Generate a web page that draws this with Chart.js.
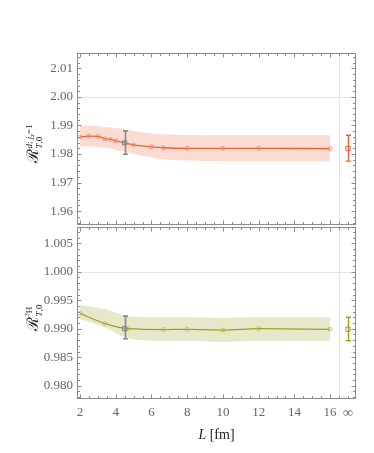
<!DOCTYPE html>
<html><head><meta charset="utf-8">
<script src="https://cdn.jsdelivr.net/npm/chart.js@4.4.1/dist/chart.umd.min.js"></script>
<style>
html,body{margin:0;padding:0;background:#fff;}
#wrap{position:relative;width:374px;height:453px;}
canvas{position:absolute;left:0;top:0;}
</style></head>
<body><div id="wrap"><canvas id="c1" width="374" height="453"></canvas><canvas id="c2" width="374" height="453"></canvas></div>
<script>
// ---- data ----
const xTop = [2, 2.5, 3, 3.4, 3.7, 4, 4.5, 5, 6, 6.67, 8, 10, 12, 16];
const yTop = [1.9860, 1.9863, 1.9862, 1.9853, 1.9851, 1.9846, 1.9839, 1.9832, 1.9825, 1.9822, 1.9820, 1.9820, 1.9820, 1.9819];
const upTop = [1.9898, 1.9899, 1.9898, 1.9895, 1.9893, 1.9891, 1.9886, 1.9881, 1.9872, 1.9869, 1.9867, 1.9866, 1.9866, 1.9866];
const loTop = [1.9827, 1.9827, 1.9825, 1.9822, 1.9819, 1.9815, 1.9808, 1.9800, 1.9788, 1.9782, 1.9777, 1.9775, 1.9775, 1.9775];

const xBot = [2, 3.4, 4.7, 6.67, 8, 10, 12, 16];
const yBot = [0.99268, 0.99090, 0.99000, 0.98985, 0.98990, 0.98976, 0.99000, 0.98990];
const upBot = [0.9942, 0.9934, 0.9922, 0.9920, 0.9920, 0.9919, 0.9920, 0.9920];
const loBot = [0.9917, 0.9902, 0.9883, 0.9879, 0.9879, 0.9877, 0.9879, 0.9879];

const grayX = [4.5];
const grayTop = [1.9839], grayTopLo = [1.9799], grayTopHi = [1.9881];
const grayBot = [0.9900], grayBotLo = [0.98824], grayBotHi = [0.9922];

const infX = [17];
const infTop = [1.9819], infTopLo = [1.9775], infTopHi = [1.9866];
const infBot = [0.9899], infBotLo = [0.9879], infBotHi = [0.9920];

const xTickValues = [2, 4, 6, 8, 10, 12, 14, 16, 17];
const xTickLabels = ['2', '4', '6', '8', '10', '12', '14', '16', '\u221E'];
const yTopTicks = [1.96, 1.97, 1.98, 1.99, 2.00, 2.01];
const yTopLabels = ['1.96', '1.97', '1.98', '1.99', '2.00', '2.01'];
const yBotTicks = [0.980, 0.985, 0.990, 0.995, 1.000, 1.005];
const yBotLabels = ['0.980', '0.985', '0.990', '0.995', '1.000', '1.005'];

// ---- styles ----
const RED = '#e8613d', RED_PT = '#ef8d72', RED_BAND = '#fadcd3';
const OLV = '#a2a11c', OLV_PT = '#bdbc5c', OLV_BAND = '#e7e8c9';
const GRAY = '#8a8a8a';
const SERIF = '"Liberation Serif", "DejaVu Serif", serif';

function pts(xs, ys){ return xs.map((x,i)=>({x:x, y:ys[i]})); }

const framePlugin = {
  id: 'frame',
  beforeDatasetsDraw(chart, args, o){
    const ctx = chart.ctx, a = chart.chartArea, xs = chart.scales.x, ys = chart.scales.y;
    ctx.save();
    ctx.strokeStyle = '#e4e4e4'; ctx.lineWidth = 1;
    ctx.beginPath();
    const gy = Math.round(ys.getPixelForValue(o.hGrid)) + 0.5;
    ctx.moveTo(a.left, gy); ctx.lineTo(a.right, gy);
    const gx = Math.round(xs.getPixelForValue(o.vGrid)) + 0.5;
    ctx.moveTo(gx, a.top); ctx.lineTo(gx, a.bottom);
    ctx.stroke();
    ctx.restore();
  },
  afterDraw(chart, args, o){
    const ctx = chart.ctx, a = chart.chartArea, xs = chart.scales.x, ys = chart.scales.y;
    ctx.save();
    ctx.strokeStyle = '#8c8c8c'; ctx.lineWidth = 1;
    const L = Math.round(a.left)+0.5, R = Math.round(a.right)-0.5, T = Math.round(a.top)+0.5, B = Math.round(a.bottom)-0.5;
    ctx.strokeRect(L, T, R-L, B-T);
    ctx.beginPath();
    for (let k = 0; ; k++) {
      const v = o.xMinor[0] + k*o.xMinor[2];
      if (v > o.xMinor[1] + 1e-9) break;
      const major = Math.abs(v/o.xMajor - Math.round(v/o.xMajor)) < 1e-6;
      const len = major ? 4 : 2.5;
      const p = Math.round(xs.getPixelForValue(v)) + 0.5;
      ctx.moveTo(p, T); ctx.lineTo(p, T+len);
      ctx.moveTo(p, B); ctx.lineTo(p, B-len);
    }
    for (let k = 0; ; k++) {
      const v = o.yMinor[0] + k*o.yMinor[2];
      if (v > o.yMinor[1] + 1e-9) break;
      const major = Math.abs(v/o.yMajor - Math.round(v/o.yMajor)) < 1e-6;
      const len = major ? 4 : 2.5;
      const p = Math.round(ys.getPixelForValue(v)) + 0.5;
      ctx.moveTo(L, p); ctx.lineTo(L+len, p);
      ctx.moveTo(R, p); ctx.lineTo(R-len, p);
    }
    ctx.stroke();
    ctx.restore();
  }
};

const errPlugin = {
  id: 'errbars',
  afterDatasetsDraw(chart, args, o){
    const ctx = chart.ctx, xs = chart.scales.x, ys = chart.scales.y;
    ctx.save();
    (o.bars || []).forEach(b => {
      b.x.forEach((xv, i) => {
        const px = Math.round(xs.getPixelForValue(xv)) + 0.5;
        const p1 = ys.getPixelForValue(b.lo[i]), p2 = ys.getPixelForValue(b.hi[i]);
        ctx.strokeStyle = b.color; ctx.lineWidth = b.width;
        ctx.beginPath();
        ctx.moveTo(px, p1); ctx.lineTo(px, p2);
        ctx.moveTo(px - b.cap, p1); ctx.lineTo(px + b.cap, p1);
        ctx.moveTo(px - b.cap, p2); ctx.lineTo(px + b.cap, p2);
        ctx.stroke();
      });
    });
    ctx.restore();
  }
};

// rotated math-like axis title
const titlePlugin = {
  id: 'mtitle',
  afterDraw(chart, args, o){
    const ctx = chart.ctx;
    ctx.save();
    ctx.fillStyle = '#222';
    if (o.ytitle) {
      const t = o.ytitle;
      const font = (seg) => (seg.it ? 'italic ' : '') + seg.s + 'px ' + SERIF;
      ctx.font = font(t.main);
      const wMain = ctx.measureText(t.main.t).width;
      const groupW = (g) => g.reduce((acc, seg) => { ctx.font = font(seg); return acc + ctx.measureText(seg.t).width; }, 0);
      const wSup = groupW(t.sup), wSub = groupW(t.sub);
      const total = wMain + 1 + Math.max(wSup, wSub);
      ctx.translate(t.x, t.y);
      ctx.rotate(-Math.PI/2);
      let x0 = -total/2;
      ctx.textBaseline = 'alphabetic'; ctx.textAlign = 'left';
      ctx.font = font(t.main); ctx.fillText(t.main.t, x0, 0);
      const drawGroup = (g) => { let x = x0 + wMain + 1; g.forEach(seg => { ctx.font = font(seg); ctx.fillText(seg.t, x, seg.dy); x += ctx.measureText(seg.t).width; }); };
      drawGroup(t.sup); drawGroup(t.sub);
      ctx.setTransform(1,0,0,1,0,0);
    }
    if (o.xtitle) {
      const t = o.xtitle;
      ctx.textBaseline = 'alphabetic'; ctx.textAlign = 'left';
      ctx.font = 'italic 14px ' + SERIF;
      const w1 = ctx.measureText(t.a).width;
      ctx.font = '14px ' + SERIF;
      const w2 = ctx.measureText(t.b).width;
      let x = t.x - (w1 + w2)/2;
      ctx.font = 'italic 14px ' + SERIF; ctx.fillText(t.a, x, t.y);
      ctx.font = '14px ' + SERIF; ctx.fillText(t.b, x + w1, t.y);
    }
    ctx.restore();
  }
};

function makeChart(id, cfg){
  const isBottom = cfg.bottom;
  return new Chart(document.getElementById(id), {
    type: 'scatter',
    data: { datasets: [
      { order: 10, data: pts(cfg.xs, cfg.up), showLine: true, pointRadius: 0, borderWidth: 0, borderColor: 'rgba(0,0,0,0)', backgroundColor: cfg.band, fill: '+1', cubicInterpolationMode: 'monotone' },
      { order: 11, data: pts(cfg.xs, cfg.lo), showLine: true, pointRadius: 0, borderWidth: 0, borderColor: 'rgba(0,0,0,0)', fill: false, cubicInterpolationMode: 'monotone' },
      { order: 2, data: pts(cfg.xs, cfg.ys), showLine: true, borderColor: cfg.line, borderWidth: 1.3, pointRadius: 2, pointBorderWidth: 0.9, pointBorderColor: cfg.pt, pointBackgroundColor: 'rgba(255,255,255,0)', fill: false, cubicInterpolationMode: 'monotone' },
      { order: 1, data: pts(grayX, cfg.gray), showLine: false, pointStyle: 'rect', pointRadius: 3, pointBorderWidth: 1, pointBorderColor: GRAY, pointBackgroundColor: 'rgba(160,160,160,0.5)' },
      { order: 0, data: pts(infX, cfg.inf), showLine: false, pointStyle: 'rect', pointRadius: 3, pointBorderWidth: 1, pointBorderColor: cfg.line, pointBackgroundColor: 'rgba(255,255,255,0)' }
    ]},
    options: {
      responsive: false, animation: false, devicePixelRatio: 1,
      layout: { padding: { left: 0, right: 18, top: cfg.top, bottom: cfg.padBottom } },
      plugins: {
        legend: { display: false }, tooltip: { enabled: false },
        frame: { hGrid: cfg.hGrid, vGrid: 16.5, xMinor: [2, 17, 0.5], xMajor: 2, yMinor: cfg.yMinor, yMajor: cfg.yMajor },
        errbars: { bars: [
          { x: grayX, lo: cfg.grayLo, hi: cfg.grayHi, color: GRAY, width: 1.6, cap: 2.5 },
          { x: infX, lo: cfg.infLo, hi: cfg.infHi, color: cfg.line, width: 1.4, cap: 2.5 }
        ]},
        mtitle: { ytitle: cfg.ytitle, xtitle: cfg.xtitle }
      },
      scales: {
        x: {
          type: 'linear', min: 1.83, max: 17.45, display: isBottom,
          grid: { display: false, drawTicks: false }, border: { display: false },
          afterBuildTicks: (s) => { s.ticks = xTickValues.map(v => ({ value: v })); },
          afterFit: (s) => { s.height = isBottom ? 30 : 0; },
          ticks: { autoSkip: false, maxRotation: 0, padding: 6, color: '#666',
            font: (c) => ({ family: SERIF, size: (c.index === xTickLabels.length - 1) ? 14 : 13 }),
            callback: (v, i) => xTickLabels[i] }
        },
        y: {
          type: 'linear', min: cfg.ymin, max: cfg.ymax,
          grid: { display: false, drawTicks: false }, border: { display: false },
          afterBuildTicks: (s) => { s.ticks = cfg.yTicks.map(v => ({ value: v })); },
          afterFit: (s) => { s.width = 77; },
          ticks: { autoSkip: false, padding: 4, color: '#666', font: { family: SERIF, size: 13 },
            callback: (v, i) => cfg.yLabels[i] }
        }
      }
    },
    plugins: [framePlugin, errPlugin, titlePlugin]
  });
}

makeChart('c1', {
  bottom: false, top: 53, padBottom: 228.5,
  xs: xTop, ys: yTop, up: upTop, lo: loTop,
  gray: grayTop, grayLo: grayTopLo, grayHi: grayTopHi,
  inf: infTop, infLo: infTopLo, infHi: infTopHi,
  line: RED, pt: RED_PT, band: RED_BAND,
  ymin: 1.9553, ymax: 2.0154, yTicks: yTopTicks, yLabels: yTopLabels,
  hGrid: 2.00, yMinor: [1.956, 2.014, 0.002], yMajor: 0.01,
  ytitle: { x: 38, y: 144,
    main: { t: '\u211B', s: 16, it: false },
    sup: [ { t: 'd', s: 9, it: true, dy: -6.5 }, { t: '; ', s: 9, it: false, dy: -6.5 }, { t: 'j', s: 9, it: true, dy: -6.5 }, { t: 'z', s: 6.5, it: true, dy: -4.5 }, { t: '=1', s: 9, it: false, dy: -6.5 } ],
    sub: [ { t: 'T', s: 9, it: true, dy: 3.5 }, { t: ',0', s: 9, it: false, dy: 3.5 } ] }
});

makeChart('c2', {
  bottom: true, top: 226.5, padBottom: 24,
  xs: xBot, ys: yBot, up: upBot, lo: loBot,
  gray: grayBot, grayLo: grayBotLo, grayHi: grayBotHi,
  inf: infBot, infLo: infBotLo, infHi: infBotHi,
  line: OLV, pt: OLV_PT, band: OLV_BAND,
  ymin: 0.97767, ymax: 1.00793, yTicks: yBotTicks, yLabels: yBotLabels,
  hGrid: 1.000, yMinor: [0.978, 1.007, 0.001], yMajor: 0.005,
  ytitle: { x: 38, y: 318,
    main: { t: '\u211B', s: 16, it: false },
    sup: [ { t: '3', s: 6.5, it: false, dy: -9 }, { t: 'H', s: 9, it: false, dy: -6.5 } ],
    sub: [ { t: 'T', s: 9, it: true, dy: 3.5 }, { t: ',0', s: 9, it: false, dy: 3.5 } ] },
  xtitle: { x: 216.5, y: 439, a: 'L', b: ' [fm]' }
});
</script>
</body></html>
